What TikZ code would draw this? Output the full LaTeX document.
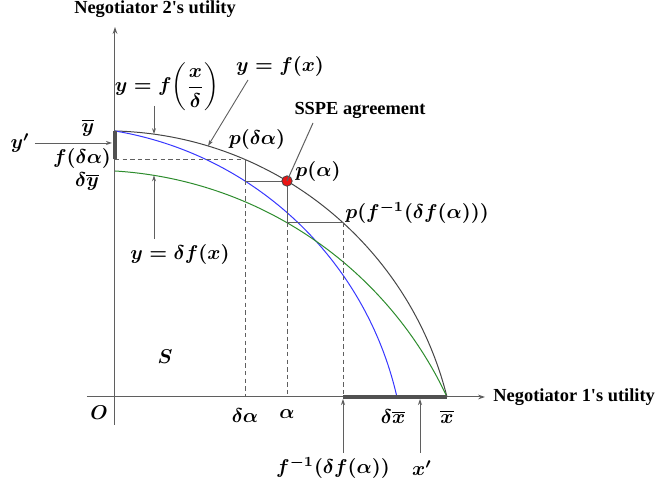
\documentclass[tikz,border=0pt]{standalone}
\usepackage[no-math]{fontspec}
\setmainfont{Liberation Serif}
\usepackage{amsmath}
\usetikzlibrary{arrows.meta}
\definecolor{axisgray}{RGB}{95,95,95}
\definecolor{curvegray}{RGB}{70,70,70}
\definecolor{curveblue}{RGB}{55,55,255}
\definecolor{curvegreen}{RGB}{45,140,45}
\definecolor{dotred}{RGB}{235,20,20}

\begin{document}
\begin{tikzpicture}[
    x=0.5pt,y=0.5pt,
    declare function={fb(\x)=-85.2+351.3*sqrt(1-((\x+8.83)/351.3)^2);
                      fg(\x)=-166.4+393.2*sqrt(1-((\x+24.19)/393.2)^2);},
    axis/.style={draw=axisgray,line width=0.5pt,-{Stealth[length=3.5pt,width=2.4pt]}},
    pointer/.style={draw=axisgray,line width=0.45pt,-{Stealth[length=3pt,width=2pt]}},
    link/.style={draw=axisgray,line width=0.5pt},
    guide/.style={draw=axisgray,line width=0.45pt,dash pattern=on 2.2pt off 1.6pt},
    bar/.style={draw=axisgray!85!black,line width=2.2pt},
    curve/.style={line width=0.5pt},
    mlabel/.style={font=\fontsize{10.2}{12}\selectfont\boldmath,inner sep=1pt},
    tlabel/.style={font=\fontsize{9.2}{11}\selectfont\bfseries,inner sep=1pt}
]
    \useasboundingbox (-115,-89) rectangle (544,397);

    % points on the frontier
    \coordinate (O) at (0,0);
    \coordinate (pa) at (172,{fb(172)});
    \coordinate (pda) at (130,{fb(130)});
    \coordinate (pf) at (228,{fb(228)});
    \coordinate (qa) at (130,{fb(172)});
    \coordinate (qf) at (172,{fb(228)});

    % curves
    \draw[curve,draw=curvegray] (0,266) arc[start angle=88.56,end angle=14.03,radius=351.3];
    \draw[curve,draw=curveblue] (0,266) arc[start angle=80.50,end angle=12.84,radius=348.1];
    \draw[curve,draw=curvegreen] (0,226) arc[start angle=86.47,end angle=25.04,radius=393.2];

    % axes
    \draw[axis] (-28,0) -- (370,0);
    \draw[axis] (0,-28) -- (0,370);
    \node[tlabel,anchor=west] (xlab) at (376,0) {Negotiator 1\textquotesingle s utility};
    \node[tlabel] (ylab) at (40,388) {Negotiator 2\textquotesingle s utility};
    \node[mlabel] (olab) at (-16,-16) {$O$};
    \node[mlabel] (slab) at (50,40) {$S$};

    % construction lines
    \draw[guide] (0,{fb(130)}) -- (pda);
    \draw[link] (pda) -- (qa) -- (pa) -- (qf) -- (pf);
    \draw[guide] (qa) -- (130,0);
    \draw[guide] (qf) -- (172,0);
    \draw[guide] (pf) -- (228,0);

    % thick bars
    \draw[bar] (0,{fb(130)}) -- (0,266);
    \draw[bar] (228,0) -- (332,0);

    \fill[dotred,draw=curvegray,line width=0.4pt] (pa) circle (2.6pt);

    % labels on the curves
    \node[mlabel] (fdx) at (52,310) {$y=f\biggl(\dfrac{x}{\delta}\biggr)$};
    \node[mlabel] (fx) at (165,330) {$y=f(x)$};
    \node[mlabel] (dfx) at (65,142) {$y=\delta f(x)$};
    \node[tlabel] (sspe) at (245,287) {SSPE agreement};
    \node[mlabel] (pdalab) at (142,257) {$p(\delta\alpha)$};
    \node[mlabel] (palab) at (203,225) {$p(\alpha)$};
    \node[mlabel] (pflab) at (302,184) {$p(f^{-1}(\delta f(\alpha)))$};
    \coordinate (fdxtip) at (39,{fb(39)});
    \coordinate (fxtip) at (93,{fb(93)});
    \coordinate (dfxtip) at (39,{fg(39)});
    \draw[pointer] (39,291) -- (fdxtip);
    \draw[pointer] (133,317) -- (fxtip);
    \draw[pointer] (39,158) -- (dfxtip);
    \draw[link] (198,274) -- (pa);

    % labels on the y-axis
    \node[mlabel] (ybar) at (-27,269) {$\overline{y}$};
    \node[mlabel] (fda) at (-33,238) {$f(\delta\alpha)$};
    \node[mlabel] (dybar) at (-28,215) {$\delta\overline{y}$};
    \node[mlabel] (yprime) at (-95,254) {$y'$};
    \coordinate (ytip) at (-3,254);
    \draw[pointer] (-80,254) -- (ytip);

    % labels on the x-axis
    \node[mlabel] (dalab) at (130,-19) {$\delta\alpha$};
    \node[mlabel] (alab) at (172,-17) {$\alpha$};
    \node[mlabel] (dxbar) at (278,-20) {$\delta\overline{x}$};
    \node[mlabel] (xbar) at (332,-20) {$\overline{x}$};
    \node[mlabel] (finv) at (218,-71) {$f^{-1}(\delta f(\alpha))$};
    \node[mlabel] (xprime) at (307,-71) {$x'$};
    \coordinate (finvtip) at (228,-2);
    \coordinate (xptip) at (305,-2);
    \draw[pointer] (228,-56) -- (finvtip);
    \draw[pointer] (305,-56) -- (xptip);
\end{tikzpicture}
\end{document}
